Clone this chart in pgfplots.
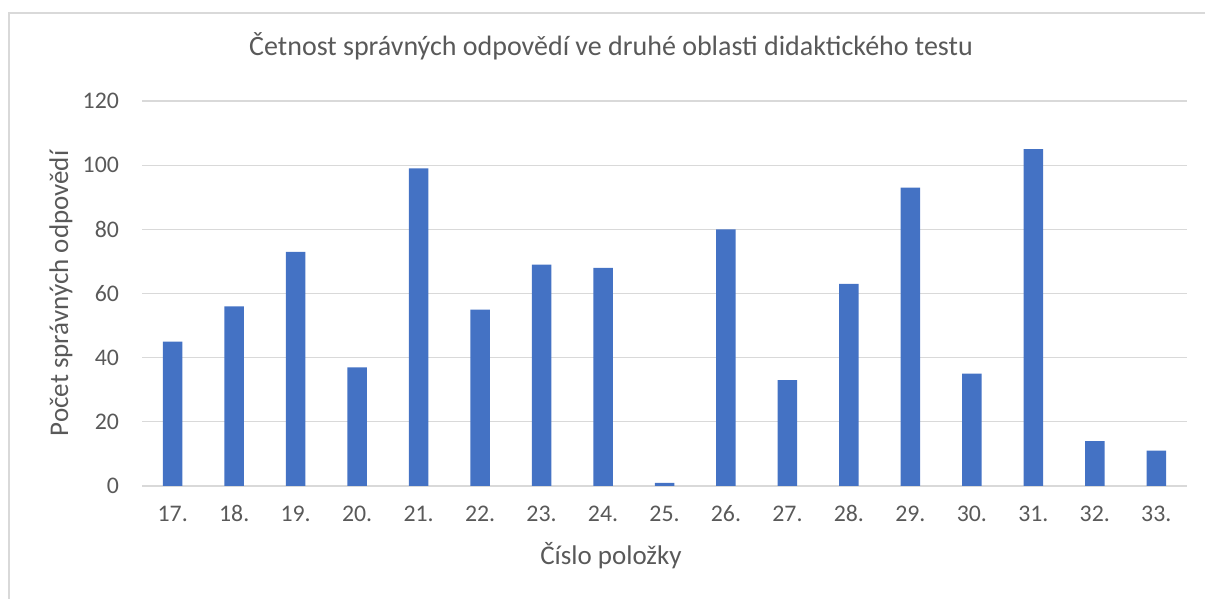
\documentclass[border=0pt]{standalone}
\usepackage{fontspec}
\setmainfont{Carlito}
\usepackage{pgfplots}
\pgfplotsset{compat=1.18}
\definecolor{barblue}{HTML}{4472C4}
\definecolor{txtgray}{HTML}{595959}
\definecolor{gridgray}{HTML}{D9D9D9}
\begin{document}
\begin{tikzpicture}
\path[use as bounding box] (0,0) rectangle (602.5pt,299.5pt);
\draw[gridgray,line width=1pt] (4.25pt,-20pt) -- (4.25pt,292.75pt) -- (620pt,292.75pt);
\begin{axis}[
  at={(71pt,56.5pt)}, anchor=south west,
  scale only axis,
  width=522.5pt, height=192.5pt,
  ybar, bar width=9.75pt,
  xmin=-0.5, xmax=16.5,
  ymin=0, ymax=120,
  xtick=data,
  xticklabels={17.,18.,19.,20.,21.,22.,23.,24.,25.,26.,27.,28.,29.,30.,31.,32.,33.},
  ytick={0,20,...,120},
  ymajorgrids, grid style={gridgray,line width=0.6pt},
  axis x line*=bottom, axis y line*=left,
  x axis line style={gridgray,line width=0.8pt},
  y axis line style={draw=none},
  major tick length=0pt,
  tick label style={font=\fontsize{11.9}{13}\selectfont, text=txtgray},
  /pgf/number format/assume math mode=true,
  yticklabel style={xshift=-8pt},
  xticklabel style={yshift=-6pt, text height=8.3pt, text depth=0pt},
  title={Četnost správných odpovědí ve druhé oblasti didaktického testu},
  title style={font=\fontsize{14}{16}\selectfont, text=txtgray, at={(axis description cs:0.4488,1)}, anchor=center, yshift=21.5pt},
  xlabel={Číslo položky},
  xlabel style={font=\fontsize{13.5}{16}\selectfont, text=txtgray, at={(axis description cs:0.4488,0)}, anchor=center, yshift=-35pt},
  ylabel={Počet správných odpovědí},
  ylabel style={font=\fontsize{13.5}{16}\selectfont, text=txtgray, at={(axis description cs:-0.0775,0.5)}, anchor=center, rotate=0},
  clip=false,
]
\addplot[fill=barblue, draw=none] coordinates {
(0,45) (1,56) (2,73) (3,37) (4,99) (5,55) (6,69) (7,68) (8,1)
(9,80) (10,33) (11,63) (12,93) (13,35) (14,105) (15,14) (16,11)};
\end{axis}
\end{tikzpicture}
\end{document}
